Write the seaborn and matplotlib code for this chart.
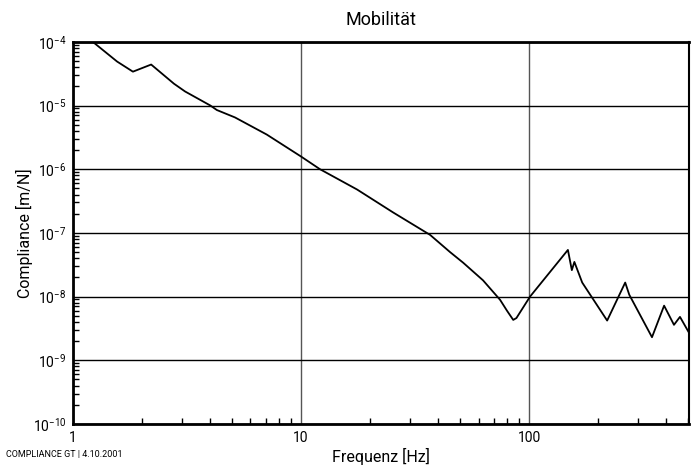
import numpy as np
import pandas as pd
import matplotlib
matplotlib.use('Agg')
import matplotlib.pyplot as plt
import seaborn as sns

# Frequency [Hz] and compliance [m/N]
freq = [1.1, 1.22, 1.56, 1.83, 2.2, 2.77, 3.1, 4.0, 4.27, 5.13, 7.07, 10.0,
        12.1, 17.6, 25.3, 36.8, 45.0, 51.4, 62.8, 74.6, 80.0, 85.2, 88.0,
        101.0, 148.0, 154.0, 158.0, 171.0, 220.0, 264.0, 275.0, 346.0, 391.0,
        432.0, 459.0, 503.0]
compliance = [1.35e-4, 1.0e-4, 4.9e-5, 3.4e-5, 4.4e-5, 2.2e-5, 1.66e-5, 1.0e-5,
              8.5e-6, 6.5e-6, 3.5e-6, 1.58e-6, 1.0e-6, 4.8e-7, 2.1e-7, 9.3e-8,
              5.0e-8, 3.4e-8, 1.8e-8, 8.9e-9, 6.0e-9, 4.3e-9, 4.6e-9, 1.0e-8,
              5.4e-8, 2.6e-8, 3.5e-8, 1.66e-8, 4.2e-9, 1.66e-8, 1.07e-8, 2.3e-9,
              7.2e-9, 3.6e-9, 4.8e-9, 2.7e-9]
decade_labels = ['$10^{-10}$', '$10^{-9}$', '$10^{-8}$', '$10^{-7}$',
                 '$10^{-6}$', '$10^{-5}$', '$10^{-4}$']

df = pd.DataFrame({'Frequenz': freq, 'Compliance': compliance})

sns.set_style('white', {'xtick.bottom': True, 'ytick.left': True})
plt.rcParams['font.family'] = ['Roboto', 'DejaVu Sans']
plt.rcParams['mathtext.default'] = 'regular'

fig = plt.figure(figsize=(6.96, 4.7), dpi=100)
ax = fig.add_axes([0.105, 0.098, 0.885, 0.813])

sns.lineplot(data=df, x='Frequenz', y='Compliance', color='black', linewidth=1.3,
             sort=False, ax=ax)

ax.set_xscale('log')
ax.set_yscale('log')
ax.set_xlim(1, 503)
ax.set_ylim(1e-10, 1e-4)

ax.grid(True, which='major', axis='y', color='black', linewidth=1.0)
ax.grid(True, which='major', axis='x', color='#555555', linewidth=1.0)

for side in ['left', 'bottom', 'top']:
    ax.spines[side].set_linewidth(2.0)
    ax.spines[side].set_color('black')
ax.spines['right'].set_linewidth(1.5)
ax.spines['right'].set_color('black')

ax.set_title('Mobilität', fontsize=13, pad=12, color='black')
ax.set_xlabel('Frequenz [Hz]', fontsize=11.5, labelpad=2, color='black')
ax.set_ylabel('Compliance [m/N]', fontsize=11.5, color='black')
ax.yaxis.set_label_coords(-0.065, 0.5)

fig.text(0.008, 0.028, 'COMPLIANCE GT | 4.10.2001', fontsize=6.5, color='black')

# ticks set last so nothing resets them
minor_x = [m * d for d in [1, 10, 100] for m in range(2, 10) if m * d < 503]
minor_y = [m * 10.0 ** e for e in range(-10, -4) for m in range(2, 10)]
ax.set_xticks([1, 10, 100], ['1', '10', '100'])
ax.set_xticks(minor_x, minor=True)
ax.set_yticks([10.0 ** e for e in range(-10, -3)], decade_labels)
ax.set_yticks(minor_y, minor=True)
ax.tick_params(which='major', length=0, labelsize=10, pad=5, labelcolor='black')
ax.xaxis.set_tick_params(which='minor', bottom=True, direction='in', length=4,
                         width=1.0, color='black', labelbottom=False)
ax.yaxis.set_tick_params(which='minor', left=True, direction='in', length=4,
                         width=1.0, color='black', labelleft=False)

fig.savefig('out.png', dpi=100)
